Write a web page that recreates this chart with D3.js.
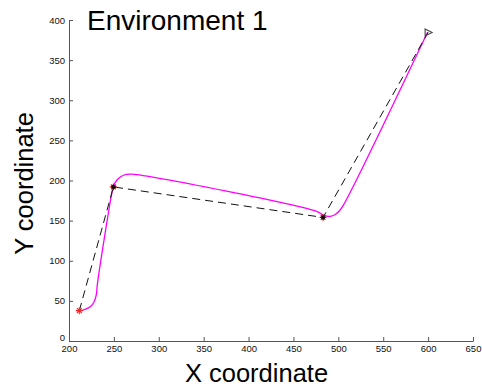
<!DOCTYPE html>
<html>
<head>
<meta charset="utf-8">
<script src="https://cdn.jsdelivr.net/npm/d3@7"></script>
<style>
  body { margin: 0; background: #fff; }
  text { font-family: "Liberation Sans", Arial, sans-serif; }
</style>
</head>
<body>
<svg width="482" height="387"></svg>
<script>
// waypoints (dashed reference route)
const wpX = [211.5, 249.5, 483, 600];
const wpY = [37.8, 192, 154, 384.5];

// travelled path (magenta)
const pathX = [211.5, 218, 224, 228, 230.5, 231.5, 247.5, 249.5, 253, 258, 264, 270, 477, 482, 487, 492, 497, 501, 505, 599.5];
const pathY = [37.8, 39.5, 43, 49, 58, 70, 183, 193, 200, 205, 207.5, 208, 161, 157.5, 155.5, 155.5, 158, 162, 168, 385];

const xTicks = [200, 250, 300, 350, 400, 450, 500, 550, 600, 650];
const yTicks = [0, 50, 100, 150, 200, 250, 300, 350, 400];

var svg = d3.select("svg");

var x = d3.scaleLinear().domain([200, 650]).range([69, 473]);
var y = d3.scaleLinear().domain([0, 400]).range([341, 20]);

// axes
var xAxis = svg.append("g")
    .attr("transform", "translate(0," + y(0) + ")")
    .call(d3.axisBottom(x).tickValues(xTicks).tickSizeInner(-4).tickSizeOuter(0).tickPadding(4));
var yAxis = svg.append("g")
    .attr("transform", "translate(" + x(200) + ",0)")
    .call(d3.axisLeft(y).tickValues(yTicks).tickSizeInner(-4).tickSizeOuter(0).tickPadding(4));

[xAxis, yAxis].forEach(function(a) {
    a.select(".domain").attr("stroke", "#555");
    a.selectAll(".tick line").attr("stroke", "#555");
    a.selectAll(".tick text")
        .attr("fill", "#111")
        .style("font-size", "9.5px")
        .style("font-family", "Liberation Sans, Arial, sans-serif");
});
// "0" sits just above the "200" label
yAxis.selectAll(".tick text").filter(d => d === 0).attr("dy", "-0.1em");

// magenta path
var pts = pathX.map((d, i) => [d, pathY[i]]);
var line = d3.line()
    .x(d => x(d[0]))
    .y(d => y(d[1]))
    .curve(d3.curveCatmullRom.alpha(0.5));

svg.append("path")
    .datum(pts)
    .attr("fill", "none")
    .attr("stroke", "#ff00ff")
    .attr("stroke-width", 1.3)
    .attr("d", line);

// dashed waypoint route
var wps = wpX.map((d, i) => [d, wpY[i]]);
svg.append("path")
    .datum(wps)
    .attr("fill", "none")
    .attr("stroke", "#111")
    .attr("stroke-width", 1)
    .attr("stroke-dasharray", "8,5")
    .attr("d", d3.line().x(d => x(d[0])).y(d => y(d[1])));

// asterisk markers
function star(cx, cy, r) {
    var d = r * 0.7;
    return "M" + (cx - r) + "," + cy + "H" + (cx + r) +
        "M" + cx + "," + (cy - r) + "V" + (cy + r) +
        "M" + (cx - d) + "," + (cy - d) + "L" + (cx + d) + "," + (cy + d) +
        "M" + (cx - d) + "," + (cy + d) + "L" + (cx + d) + "," + (cy - d);
}

svg.append("g")
    .selectAll("path")
    .data(wps.slice(0, 3))
    .enter()
    .append("path")
    .attr("d", d => star(x(d[0]), y(d[1]), 3.5))
    .attr("stroke", "#ff2020")
    .attr("stroke-width", 1.1)
    .attr("fill", "none");

svg.append("g")
    .selectAll("path")
    .data(wps.slice(1, 3))
    .enter()
    .append("path")
    .attr("d", d => star(x(d[0]), y(d[1]), 2.5))
    .attr("stroke", "#111")
    .attr("stroke-width", 1.2)
    .attr("fill", "none");

// end marker: right-pointing triangle
var end = wps[3];
var ex = x(end[0]), ey = y(end[1]);
svg.append("path")
    .attr("d", "M" + (ex - 3) + "," + (ey - 3.5) + "L" + (ex + 4) + "," + ey + "L" + (ex - 3) + "," + (ey + 3.5) + "Z")
    .attr("fill", "none")
    .attr("stroke", "#444")
    .attr("stroke-width", 1.1);

// title and labels
svg.append("text")
    .attr("x", 87)
    .attr("y", 30)
    .style("font-size", "28px")
    .attr("fill", "#000")
    .text("Environment 1");

svg.append("text")
    .attr("x", 256.5)
    .attr("y", 382)
    .attr("text-anchor", "middle")
    .style("font-size", "25.5px")
    .attr("fill", "#000")
    .text("X coordinate");

svg.append("text")
    .attr("transform", "translate(33,183.5) rotate(-90)")
    .attr("text-anchor", "middle")
    .style("font-size", "25.5px")
    .attr("fill", "#000")
    .text("Y coordinate");
</script>
</body>
</html>
